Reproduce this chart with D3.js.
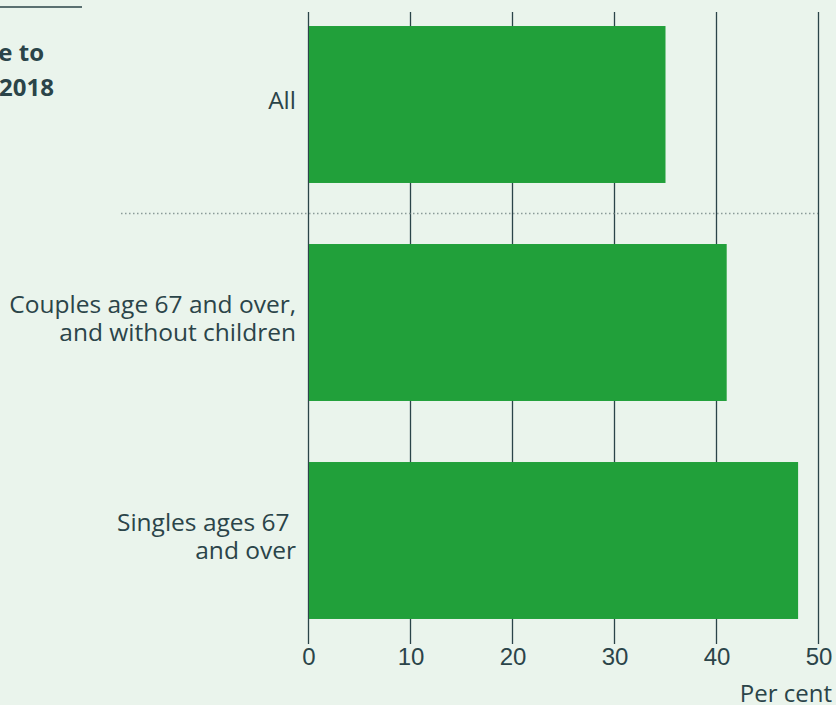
<!DOCTYPE html>
<html>
<head>
<meta charset="utf-8">
<script src="https://cdn.jsdelivr.net/npm/d3@7"></script>
<style>
	body { margin: 0; background: #eaf4ec; }
	svg { display: block; font-family: "Open Sans", sans-serif; }
	.tick text { font-size: 24px; fill: #2b4449; }
</style>
</head>
<body>
<div id="chart"></div>
<script>
// data
var categories = ["All", "Couples age 67 and over, and without children", "Singles ages 67 and over"];
var labelLines = [["All"], ["Couples age 67 and over,", "and without children"], ["Singles ages 67 ", "and over"]];
var values = [35, 41, 48];
var xTicks = [0, 10, 20, 30, 40, 50];

var width = 836;
var height = 705;
var ink = "#2b4449";

var svg = d3.select("#chart").append("svg")
	.attr("width", width)
	.attr("height", height);

svg.append("rect")
	.attr("width", width)
	.attr("height", height)
	.attr("fill", "#eaf4ec");

// title (cut off on the left)
svg.append("line")
	.attr("x1", 0).attr("x2", 82)
	.attr("y1", 7).attr("y2", 7)
	.attr("stroke", ink)
	.attr("stroke-width", 1.5);

svg.append("text")
	.attr("x", 44).attr("y", 61)
	.attr("text-anchor", "end")
	.attr("font-size", 24)
	.attr("font-weight", "bold")
	.attr("fill", ink)
	.text("e to");
svg.append("text")
	.attr("x", 54).attr("y", 96)
	.attr("text-anchor", "end")
	.attr("font-size", 24)
	.attr("font-weight", "bold")
	.attr("fill", ink)
	.text("2018");

var x = d3.scaleLinear().domain([0, 50]).range([308.5, 818.5]);
var y = d3.scaleBand()
	.domain(categories)
	.range([-4.5, 649.5])
	.paddingInner(0.28)
	.paddingOuter(0.14);

// grid lines
svg.append("g")
	.selectAll("line")
	.data(xTicks)
	.enter()
	.append("line")
	.attr("x1", function(d){ return x(d); })
	.attr("x2", function(d){ return x(d); })
	.attr("y1", 12)
	.attr("y2", 644)
	.attr("stroke", ink)
	.attr("stroke-width", 1.3);

// dotted separator
svg.append("line")
	.attr("x1", 121).attr("x2", 818)
	.attr("y1", 213.5).attr("y2", 213.5)
	.attr("stroke", "#8a9a98")
	.attr("stroke-width", 1.3)
	.attr("stroke-dasharray", "1.5,2.5");

// bars
svg.append("g")
	.selectAll("rect")
	.data(values)
	.enter()
	.append("rect")
	.attr("x", x(0) + 0.5)
	.attr("y", function(d, i){ return y(categories[i]); })
	.attr("width", function(d){ return x(d) - x(0) - 0.5; })
	.attr("height", y.bandwidth())
	.attr("fill", "#21a03a");

// x axis labels
var xAxis = d3.axisBottom(x).tickValues(xTicks).tickSize(0).tickPadding(0);
var gx = svg.append("g")
	.attr("transform", "translate(0, 645)")
	.call(xAxis);
gx.select(".domain").remove();
gx.selectAll(".tick text").attr("y", 20).attr("dy", 0);

svg.append("text")
	.attr("x", 832).attr("y", 702)
	.attr("text-anchor", "end")
	.attr("font-size", 24)
	.attr("fill", ink)
	.text("Per cent");

// category labels
var lineH = 28;
var lab = svg.append("g")
	.selectAll("text")
	.data(categories)
	.enter()
	.append("text")
	.attr("text-anchor", "end")
	.attr("font-size", 24.5)
	.attr("fill", ink)
	.attr("transform", function(d, i) {
		var cy = y(d) + y.bandwidth() / 2 - (labelLines[i].length - 1) * lineH / 2 - 4;
		return "translate(296," + cy + ")";
	});
lab.selectAll("tspan")
	.data(function(d, i){ return labelLines[i]; })
	.enter()
	.append("tspan")
	.attr("x", 0)
	.attr("y", function(d, j){ return j * lineH; })
	.attr("dy", "0.35em")
	.style("white-space", "pre")
	.text(function(d){ return d; });
</script>
</body>
</html>
